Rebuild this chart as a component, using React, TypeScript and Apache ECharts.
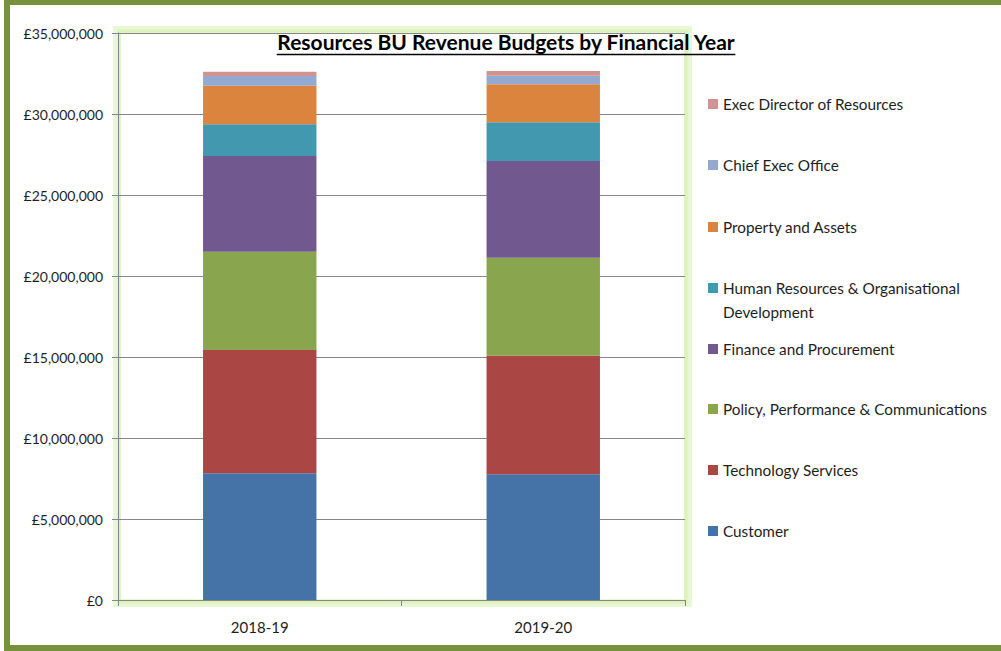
import React, { useEffect, useRef } from "react";
import * as echarts from "echarts";

const categories = ["2018-19", "2019-20"];
const seriesNames = [
  "Customer",
  "Technology Services",
  "Policy, Performance & Communications",
  "Finance and Procurement",
  "Human Resources & Organisational Development",
  "Property and Assets",
  "Chief Exec Office",
  "Exec Director of Resources",
];
const customer = [7820000, 7760000];
const technology = [7610000, 7340000];
const policy = [6070000, 6030000];
const finance = [5910000, 5970000];
const humanResources = [1950000, 2390000];
const property = [2390000, 2340000];
const chiefExec = [600000, 530000];
const execDirector = [260000, 290000];
const seriesValues = [customer, technology, policy, finance, humanResources, property, chiefExec, execDirector];
const colors = ["#4572A7", "#AA4643", "#89A54E", "#71588F", "#4198AF", "#DB843D", "#93A9CF", "#D19392"];
const yTicks = { min: 0, max: 35000000, interval: 5000000 };
const titleText = "Resources BU Revenue Budgets by Financial Year";

const FONT = "Lato, 'Open Sans', sans-serif";

// legend icon centre y for each series (index into seriesNames)
const legendCenters = [531, 470, 409, 349, 288, 227, 165, 104];

export default function App() {
  const ref = useRef<HTMLDivElement>(null);
  useEffect(() => {
    if (!ref.current) return;
    const chart = echarts.init(ref.current, null, { renderer: "svg" });

    const titleFontSize = 21;
    let titleWidth = 460;
    try {
      const ctx = document.createElement("canvas").getContext("2d");
      if (ctx) {
        ctx.font = `bold ${titleFontSize}px ${FONT}`;
        titleWidth = ctx.measureText(titleText).width;
      }
    } catch (e) {}
    const titleCx = 506;

    const legends = seriesNames.map((name, i) => {
      const isHR = i === 4;
      const lines = isHR ? 3 : 1;
      return {
        data: [name],
        orient: "vertical",
        left: 708,
        top: legendCenters[i] - (lines * 24) / 2,
        padding: 0,
        itemWidth: 10,
        itemHeight: 10,
        icon: "rect",
        selectedMode: false,
        formatter: isHR ? () => "\nHuman Resources & Organisational\nDevelopment" : undefined,
        textStyle: { fontFamily: FONT, fontSize: 15.3, lineHeight: 24, color: "#1e1e1e" },
      };
    });

    chart.setOption({
      animation: false,
      backgroundColor: "#ffffff",
      color: colors,
      title: {
        text: titleText,
        left: titleCx,
        top: 31,
        textAlign: "center",
        padding: 0,
        textStyle: { fontFamily: FONT, fontSize: titleFontSize, fontWeight: "bold", color: "#000" },
      },
      legend: legends,
      grid: { left: 118, top: 33, right: 316, bottom: 51 },
      xAxis: {
        type: "category",
        data: categories,
        axisLine: { lineStyle: { color: "#868686", width: 1 } },
        axisTick: { show: true, alignWithLabel: false, length: 6, lineStyle: { color: "#868686" } },
        axisLabel: { fontFamily: FONT, fontSize: 15, color: "#1e1e1e", margin: 19 },
      },
      yAxis: {
        type: "value",
        min: yTicks.min,
        max: yTicks.max,
        interval: yTicks.interval,
        axisLine: { show: true, lineStyle: { color: "#868686", width: 1 } },
        axisTick: { show: true, length: 6, lineStyle: { color: "#868686" } },
        splitLine: { lineStyle: { color: "#868686", width: 1 } },
        axisLabel: {
          fontFamily: FONT,
          fontSize: 14,
          color: "#1e1e1e",
          margin: 15,
          formatter: (v: number) => "£" + v.toLocaleString("en-GB"),
        },
      },
      series: seriesNames.map((name, i) => ({
        name,
        type: "bar",
        stack: "total",
        barWidth: "40%",
        data: seriesValues[i],
        itemStyle: { color: colors[i] },
      })),
      graphic: [
        {
          type: "rect",
          silent: true,
          z: -10,
          shape: { x: 117, y: 30, width: 571, height: 573 },
          style: { fill: "none", stroke: "rgba(205,238,160,0.45)", lineWidth: 8 },
        },
        {
          type: "rect",
          silent: true,
          z: -9,
          shape: { x: 119, y: 31, width: 567, height: 571 },
          style: { fill: "none", stroke: "rgba(218,242,180,0.85)", lineWidth: 3 },
        },
        {
          type: "line",
          silent: true,
          shape: { x1: titleCx - titleWidth / 2, y1: 54.5, x2: titleCx + titleWidth / 2, y2: 54.5 },
          style: { stroke: "#000", lineWidth: 1.5 },
        },
        {
          type: "rect",
          silent: true,
          z: 100,
          shape: { x: 7, y: 2, width: 1010, height: 646 },
          style: { fill: "none", stroke: "#76923C", lineWidth: 6 },
        },
      ],
    });
    return () => chart.dispose();
  }, []);
  return (
    <div
      ref={ref}
      style={{ position: "fixed", left: 0, top: 0, width: 1001, height: 651 }}
    />
  );
}
